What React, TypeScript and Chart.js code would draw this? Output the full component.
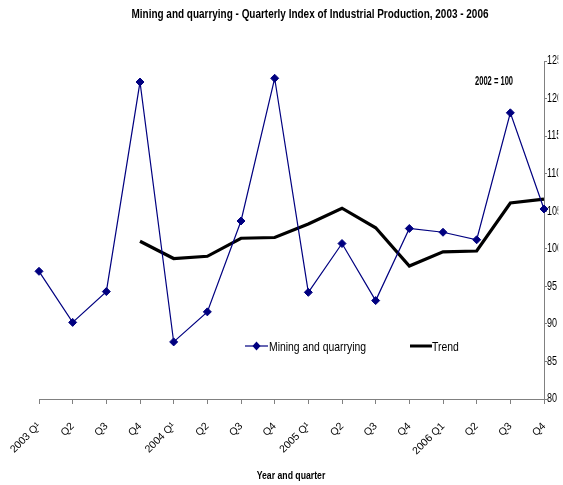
import React, { useEffect, useRef } from "react";
import { Chart, registerables } from "chart.js";

Chart.register(...registerables);

const FONT = '"Liberation Sans", Arial, sans-serif';

const titleText = "Mining and quarrying - Quarterly Index of Industrial Production, 2003 - 2006";
const baseNote = "2002 = 100";
const xAxisTitle = "Year and quarter";
const categories = ["2003 Q¹", "Q2", "Q3", "Q4", "2004 Q¹", "Q2", "Q3", "Q4", "2005 Q¹", "Q2", "Q3", "Q4", "2006 Q1", "Q2", "Q3", "Q4"];
const miningLabel = "Mining and quarrying";
const miningValues = [97.0, 90.2, 94.3, 122.2, 87.6, 91.6, 103.7, 122.7, 94.2, 100.7, 93.1, 102.7, 102.2, 101.2, 118.1, 105.3];
const trendLabel = "Trend";
const trendValues = [null, null, null, 101.0, 98.7, 99.0, 101.4, 101.5, 103.3, 105.4, 102.8, 97.7, 99.6, 99.7, 106.1, 106.6];
const yMin = 80;
const yMax = 125;
const yStep = 5;

const NAVY = "#000080";
const AXIS = "#808080";

function narrowText(
  ctx: CanvasRenderingContext2D,
  text: string,
  x: number,
  y: number,
  font: string,
  sx: number,
  align: CanvasTextAlign
) {
  ctx.save();
  ctx.font = font;
  ctx.textAlign = align;
  ctx.textBaseline = "middle";
  ctx.translate(x, y);
  ctx.scale(sx, 1);
  ctx.fillText(text, 0, 0);
  ctx.restore();
}

const overlayPlugin = {
  id: "overlay",
  beforeDraw(chart: any) {
    // condense the right-hand tick labels (all left-aligned at one x)
    const ys = chart.scales.y;
    if (ys && !ys.__narrow) {
      const orig = ys.drawLabels.bind(ys);
      ys.drawLabels = (area: any) => {
        const ctx = chart.ctx as CanvasRenderingContext2D;
        const x0 = ys.left;
        ctx.save();
        ctx.translate(x0, 0);
        ctx.scale(0.75, 1);
        ctx.translate(-x0, 0);
        orig(area);
        ctx.restore();
      };
      ys.__narrow = true;
    }
  },
  afterDraw(chart: any) {
    const ctx = chart.ctx as CanvasRenderingContext2D;
    ctx.save();
    ctx.fillStyle = "#000";
    narrowText(ctx, titleText, 310, 15, `bold 12px ${FONT}`, 0.83, "center");
    narrowText(ctx, baseNote, 475, 82, `bold 12px ${FONT}`, 0.63, "left");
    narrowText(ctx, xAxisTitle, 291, 476, `bold 11px ${FONT}`, 0.79, "center");

    // legend
    const ly = 346;
    ctx.strokeStyle = NAVY;
    ctx.lineWidth = 1.2;
    ctx.beginPath();
    ctx.moveTo(245, ly);
    ctx.lineTo(268, ly);
    ctx.stroke();
    ctx.fillStyle = NAVY;
    ctx.beginPath();
    ctx.moveTo(256.5, ly - 4.5);
    ctx.lineTo(260.5, ly);
    ctx.lineTo(256.5, ly + 4.5);
    ctx.lineTo(252.5, ly);
    ctx.closePath();
    ctx.fill();
    ctx.fillStyle = "#000";
    narrowText(ctx, miningLabel, 269, ly + 1, `13px ${FONT}`, 0.8, "left");

    ctx.strokeStyle = "#000";
    ctx.lineWidth = 3;
    ctx.beginPath();
    ctx.moveTo(410, ly);
    ctx.lineTo(432, ly);
    ctx.stroke();
    narrowText(ctx, trendLabel, 432, ly + 1, `13px ${FONT}`, 0.8, "left");
    ctx.restore();
  },
};

export default function App() {
  const canvasRef = useRef<HTMLCanvasElement | null>(null);

  useEffect(() => {
    const canvas = canvasRef.current;
    if (!canvas) return;
    const chart = new Chart(canvas, {
      type: "line",
      data: {
        labels: categories,
        datasets: [
          {
            label: miningLabel,
            data: miningValues,
            borderColor: NAVY,
            backgroundColor: NAVY,
            borderWidth: 1.2,
            pointStyle: "rectRot",
            pointRadius: 4,
            pointHoverRadius: 4,
            pointBackgroundColor: NAVY,
            pointBorderColor: NAVY,
            pointBorderWidth: 1,
            tension: 0,
            clip: false,
          },
          {
            label: trendLabel,
            data: trendValues,
            borderColor: "#000",
            backgroundColor: "#000",
            borderWidth: 3.2,
            pointRadius: 0,
            pointHoverRadius: 0,
            tension: 0,
            spanGaps: false,
            clip: false,
          },
        ],
      },
      options: {
        responsive: false,
        animation: false,
        devicePixelRatio: 1,
        layout: { padding: { top: 61, left: 39, right: 0, bottom: 0 } },
        plugins: {
          legend: { display: false },
          title: { display: false },
          tooltip: { enabled: false },
        },
        scales: {
          x: {
            type: "category",
            offset: false,
            grid: {
              drawOnChartArea: false,
              drawTicks: true,
              tickLength: 5,
              color: AXIS,
            },
            border: { display: true, color: AXIS, width: 1 },
            ticks: {
              autoSkip: false,
              maxRotation: 45,
              minRotation: 45,
              color: "#000",
              padding: 16,
              font: { family: FONT, size: 10.5 },
            },
            title: { display: false },
            afterFit: (scale: any) => {
              scale.height = 86;
              scale.paddingLeft = 0;
              scale.paddingRight = 0;
            },
          },
          y: {
            position: "right",
            min: yMin,
            max: yMax,
            grid: {
              drawOnChartArea: false,
              drawTicks: true,
              tickLength: 3,
              color: AXIS,
            },
            border: { display: true, color: AXIS, width: 1 },
            ticks: {
              stepSize: yStep,
              color: "#000",
              padding: 1,
              font: { family: FONT, size: 12 },
            },
            afterFit: (scale: any) => {
              scale.width = 19;
              scale.paddingTop = 0;
              scale.paddingBottom = 0;
            },
          },
        },
      },
      plugins: [overlayPlugin],
    } as any);
    return () => chart.destroy();
  }, []);

  return (
    <div style={{ position: "absolute", left: 0, top: 0, width: 563, height: 485, background: "#fff" }}>
      <canvas ref={canvasRef} width={563} height={485} style={{ display: "block", width: 563, height: 485 }} />
    </div>
  );
}
